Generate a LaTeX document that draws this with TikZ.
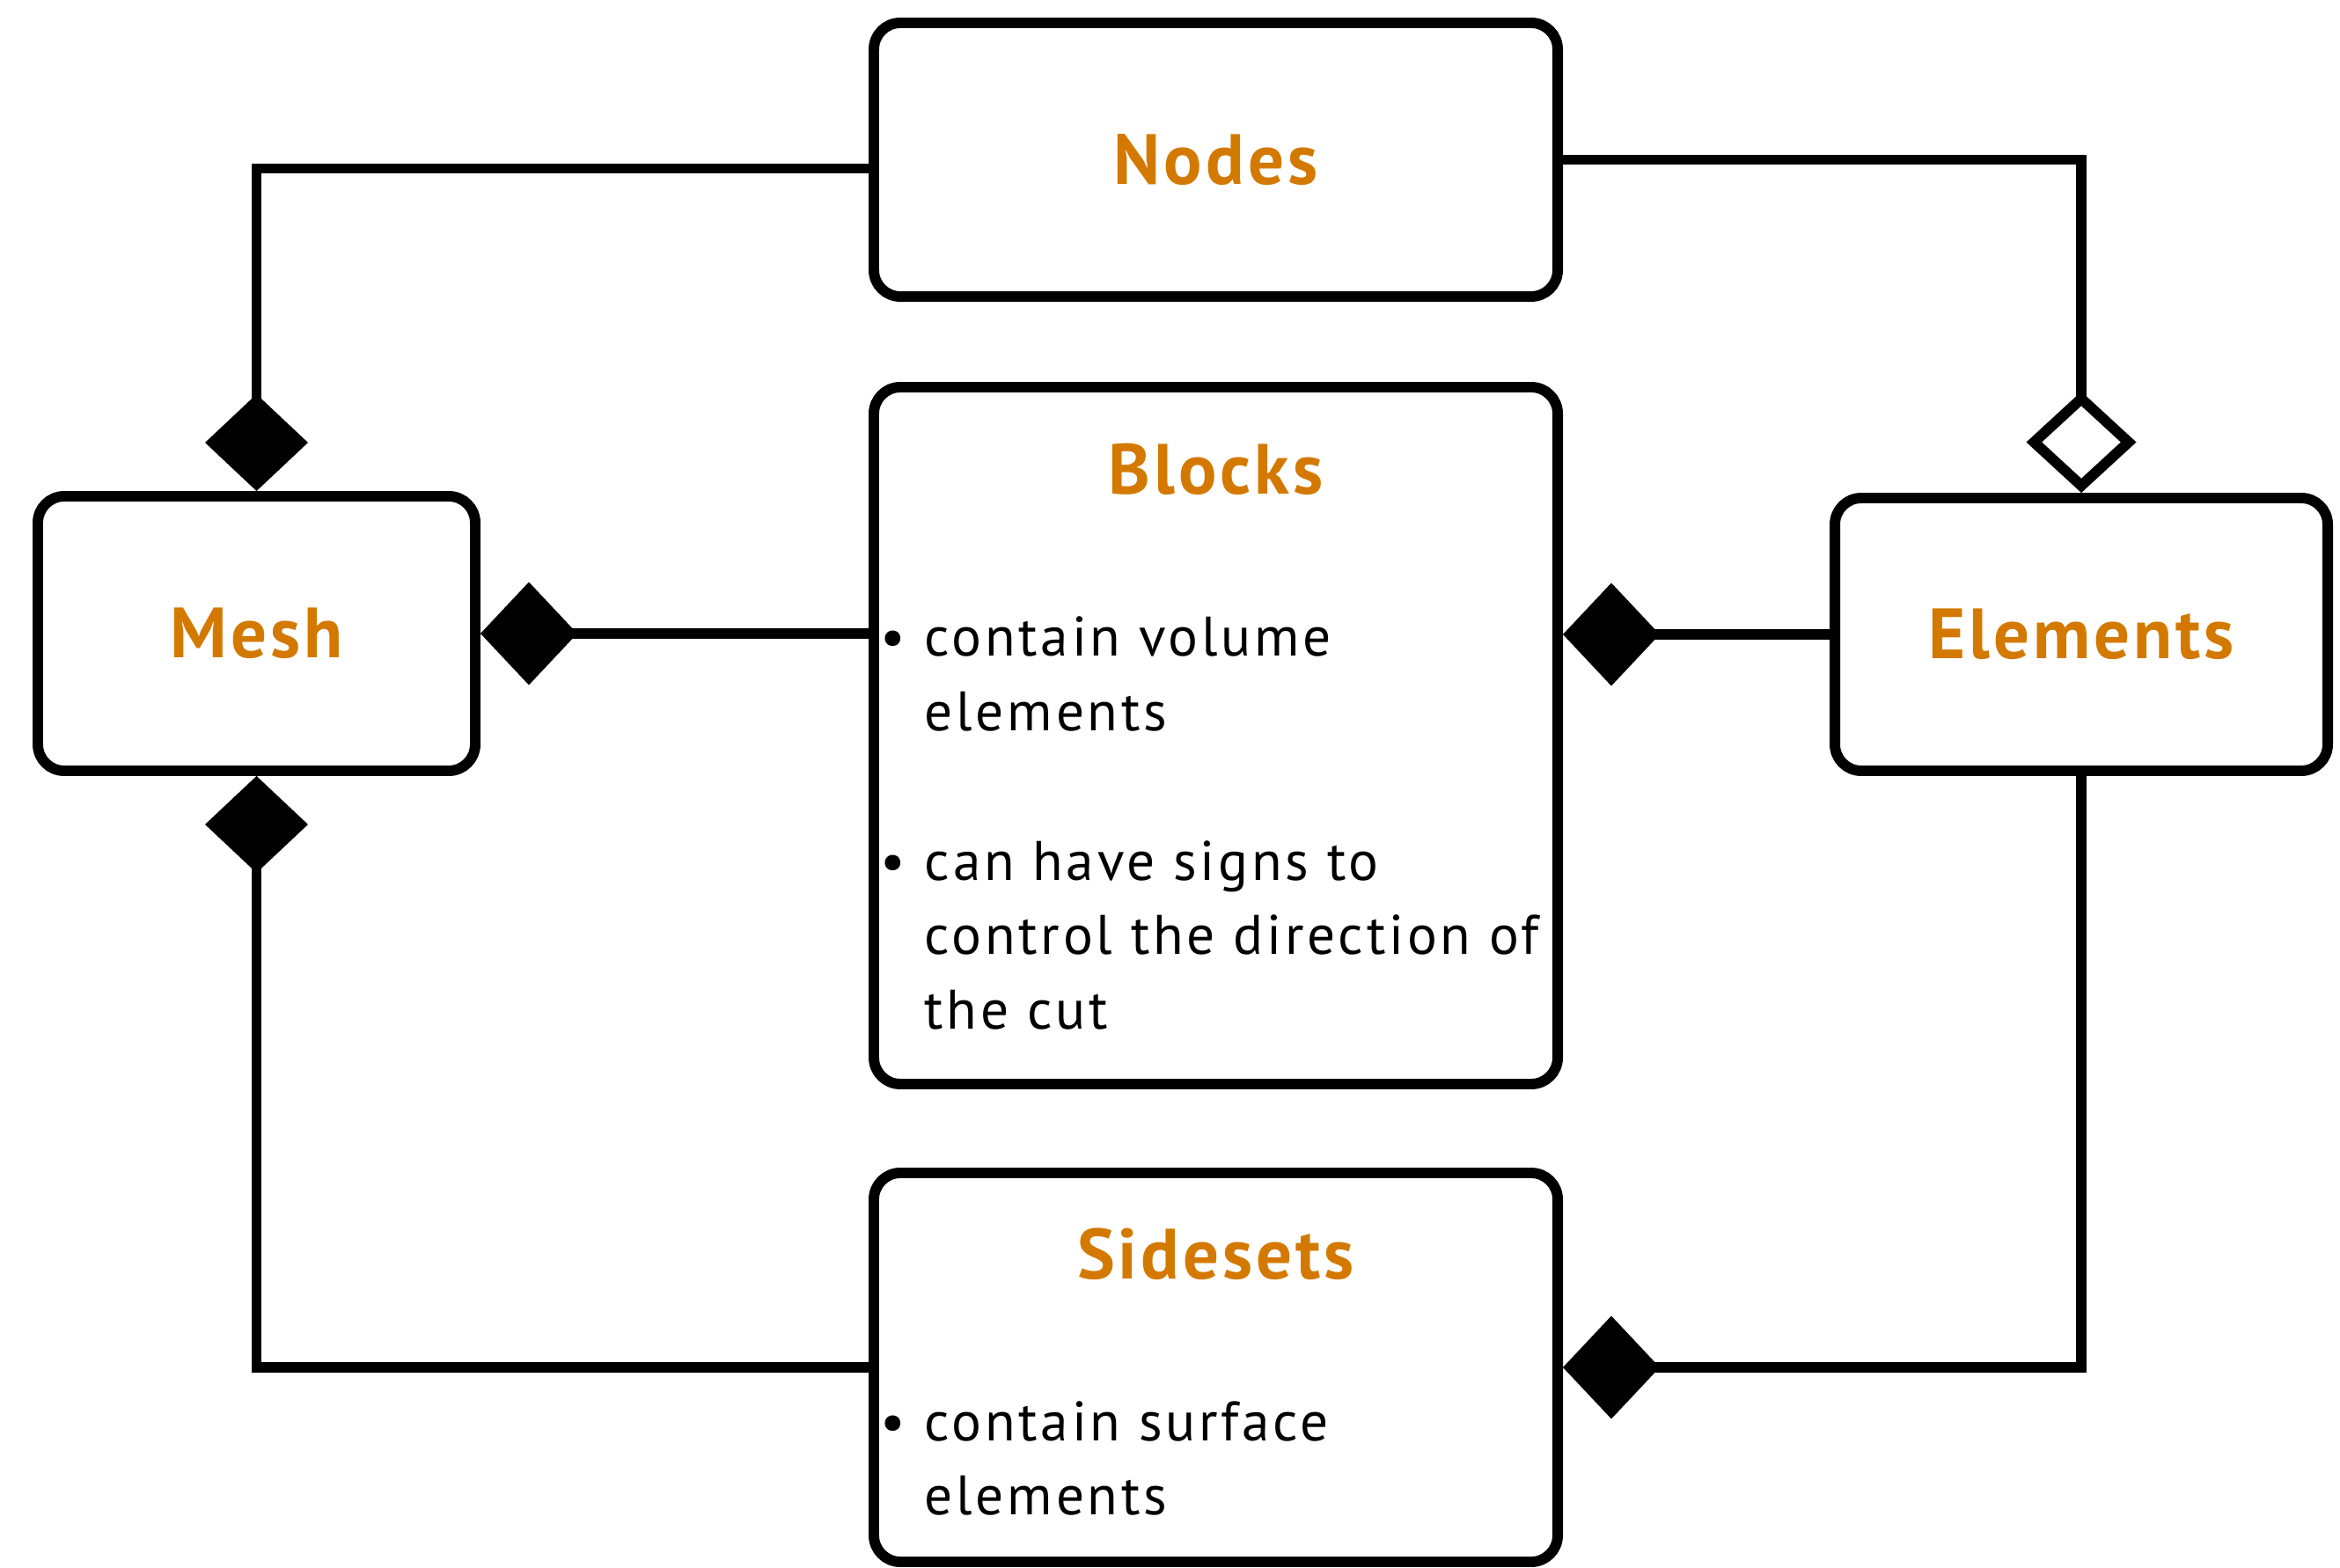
\documentclass[tikz,border=0pt]{standalone}
\usepackage{fontspec}
\setmainfont{PT Sans}
\newfontfamily\titlefont[LetterSpace=5]{PT Sans}
\newfontfamily\notefont[LetterSpace=6]{PT Sans}
\usepackage{tikz}
\usetikzlibrary{arrows.meta}
\usetikzlibrary{positioning}
\definecolor{titleorange}{RGB}{212,121,0}
\tikzset{
    classbox/.style={draw=black, line width=3.4pt, rounded corners=0.3cm, fill=white, inner sep=0pt},
    classtitle/.style={text=titleorange, font=\titlefont\fontsize{23}{28}\selectfont\bfseries},
    classbody/.style={font=\notefont\fontsize{18}{24.1}\selectfont, inner sep=0pt, anchor=base west},
    assoc/.style={line width=3.4pt},
    comp/.style={assoc, -{Diamond[length=1.1cm, width=1.17cm]}},
    aggr/.style={assoc, -{Diamond[open, length=1.15cm, width=1.25cm]}}}

\begin{document}
\begin{tikzpicture}

    \useasboundingbox (0,0) rectangle (26.59,-17.82);

    % the classes
    \node[classbox, classtitle, minimum width=7.77cm, minimum height=3.11cm] (Nodes) at (13.815,-1.815) {Nodes};
    \node[classbox, minimum width=7.77cm, minimum height=7.92cm] (Blocks) at (13.815,-8.36) {};
    \node[classbox, minimum width=7.77cm, minimum height=4.42cm] (Sidesets) at (13.815,-15.54) {};
    \node[classbox, classtitle, minimum width=4.97cm, minimum height=3.12cm] (Mesh) at (2.915,-7.20) {Mesh};
    \node[classbox, classtitle, minimum width=5.60cm, minimum height=3.10cm] (Elements) at (23.65,-7.21) {Elements};

    % titles and notes inside the tall boxes
    \node[classtitle] (BlocksTitle) at (13.815,-5.33) {Blocks};
    \node[classbody] (BlocksNotes) at (10.0,-7.46) {\begin{tabular}[t]{@{}p{0.5cm}@{}l@{}}
        \textbullet & contain volume\\
                    & elements\\[24.1pt]
        \textbullet & can have signs to\\
                    & control the direction of\\
                    & the cut
    \end{tabular}};
    \node[classtitle] (SidesetsTitle) at (13.815,-14.25) {Sidesets};
    \node[classbody] (SidesetsNotes) at (10.0,-16.37) {\begin{tabular}[t]{@{}p{0.5cm}@{}l@{}}
        \textbullet & contain surface\\
                    & elements
    \end{tabular}};

    % relations
    \draw[comp] ([yshift=-0.1cm]Nodes.west) -| (Mesh.north);
    \draw[aggr] (Nodes.east) -| (Elements.north);
    \draw[comp] (Blocks.west |- Mesh.east) -- (Mesh.east);
    \draw[comp] (Elements.west) -- (Blocks.east |- Elements.west);
    \draw[comp] (Sidesets.west) -| (Mesh.south);
    \draw[comp] (Elements.south) |- (Sidesets.east);

\end{tikzpicture}
\end{document}
